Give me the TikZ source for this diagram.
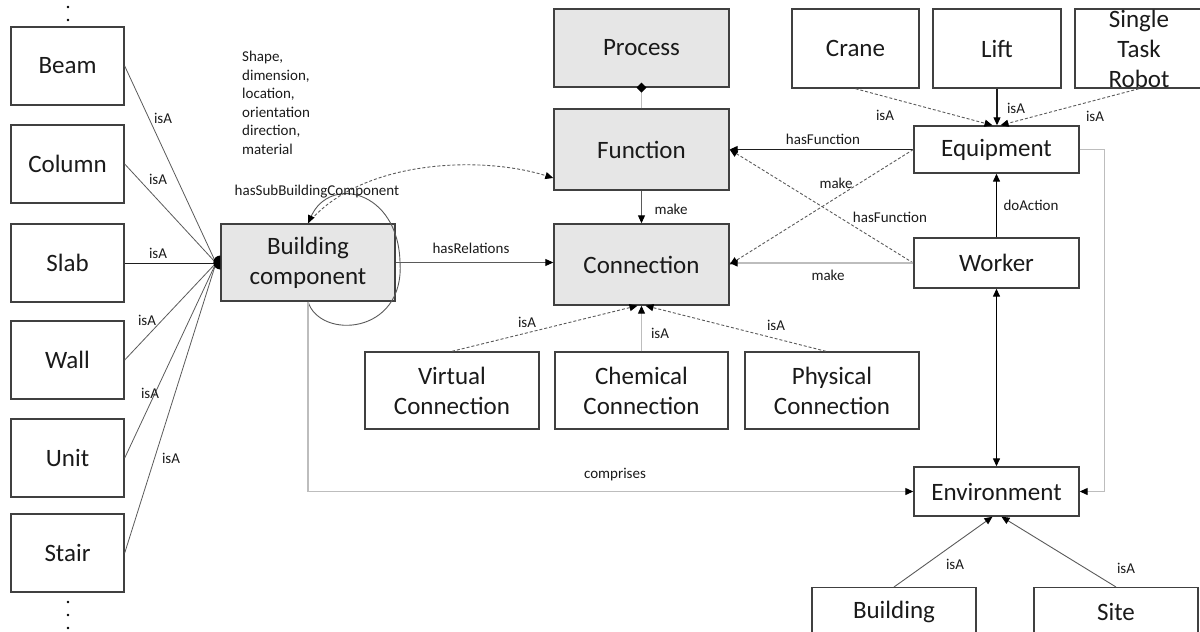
\documentclass[tikz,border=0pt]{standalone}
\usepackage{fontspec}
\setmainfont{Carlito}
\usetikzlibrary{arrows.meta,calc}
\definecolor{boxline}{HTML}{404040}
\definecolor{boxfill}{HTML}{E6E6E6}
\definecolor{linedark}{HTML}{1E1E1E}
\definecolor{linemid}{HTML}{5A5A5A}
\definecolor{linelight}{HTML}{BDBDBD}
\definecolor{txt}{HTML}{1A1A1A}
\begin{document}
\begin{tikzpicture}[x=1pt,y=-1pt,
  box/.style={draw=boxline, line width=1.4pt, inner sep=0pt, align=center,
    font=\fontsize{25}{30}\selectfont, text=txt},
  core/.style={box, fill=boxfill},
  part/.style={box, minimum width=113pt, minimum height=78pt},
  lbl/.style={font=\fontsize{15}{18.5}\selectfont, text=txt, inner sep=0pt},
  tip/.style={-{Triangle[length=8pt,width=7pt,color=black]}},
  isline/.style={draw=linemid, line width=0.8pt},
  solidc/.style={tip, draw=linedark, line width=1.1pt},
  greyc/.style={tip, draw=linelight, line width=1.2pt},
  dashc/.style={tip, draw=linemid, line width=0.9pt, dash pattern=on 3pt off 2pt},
  dotmark/.style={circle, fill=black, inner sep=0pt, minimum size=2.6pt}
]
\useasboundingbox (0,0) rectangle (1200,632);

% ---------- building parts on the left ----------
\node[part] (beam) at (67.5,66)  {Beam};
\node[part] (col)  at (67.5,164) {Column};
\node[part] (slab) at (67.5,263) {Slab};
\node[part] (wall) at (67.5,360) {Wall};
\node[part] (unit) at (67.5,458) {Unit};
\node[part] (stair) at (67.5,553) {Stair};
\node[dotmark] (dt1) at (68,7) {};
\node[dotmark] (dt2) at (68,20) {};
\node[dotmark] (db1) at (68,602) {};
\node[dotmark] (db2) at (68,615) {};
\node[dotmark] (db3) at (68,628) {};

% ---------- core concepts ----------
\node[core, minimum width=174pt, minimum height=77pt] (bc) at (308,262.5) {Building\\component};
\node[core, minimum width=175pt, minimum height=78pt] (proc) at (641.5,48) {Process};
\node[core, minimum width=175pt, minimum height=81pt] (fn) at (641.5,149.5) {Function};
\node[core, minimum width=175pt, minimum height=81pt] (cn) at (641.5,264.5) {Connection};

% ---------- connection kinds ----------
\node[box, minimum width=174pt, minimum height=77pt] (vc) at (452,390.5) {Virtual\\Connection};
\node[box, minimum width=173pt, minimum height=77pt] (cc) at (641.5,390.5) {Chemical\\Connection};
\node[box, minimum width=174pt, minimum height=77pt] (pc) at (832,390.5) {Physical\\Connection};

% ---------- equipment, worker, environment ----------
\node[box, minimum width=127pt, minimum height=79pt] (crane) at (855.5,48.5) {Crane};
\node[box, minimum width=128pt, minimum height=79pt] (lift) at (997,48.5) {Lift};
\node[box, minimum width=128pt, minimum height=79pt] (robot) at (1139,48.5) {Single\\Task\\Robot};
\node[box, minimum width=165pt, minimum height=47pt] (eq) at (996.5,149.5) {Equipment};
\node[box, minimum width=165pt, minimum height=50pt] (wk) at (996.5,263) {Worker};
\node[box, minimum width=165pt, minimum height=49pt] (env) at (996.5,491.5) {Environment};
\node[box, minimum width=164pt, minimum height=48pt, anchor=north] (bld) at (894,587) {Building};
\node[box, minimum width=164pt, minimum height=48pt, anchor=north] (site) at (1116,587) {Site};

% ---------- attribute list ----------
\node[lbl, anchor=north west, align=left] (attr) at (242,51)
  {Shape,\\dimension,\\location,\\orientation\\direction,\\material};

% ---------- parts join the building component ----------
\coordinate (hub) at (216,263);
\foreach \p in {beam,col,wall,unit,stair} \draw[isline] (\p.east) -- (hub);
\draw[draw=linedark, line width=1pt] (slab.east) -- (hub);
\fill (bc.west) ++(0,-7) arc[start angle=90,end angle=270,radius=7pt] -- cycle;
\node[lbl] at (163,118) {isA};
\node[lbl] at (158,179) {isA};
\node[lbl] at (158,253) {isA};
\node[lbl] at (147,320) {isA};
\node[lbl] at (150,393) {isA};
\node[lbl] at (171,458) {isA};

% ---------- building component relations ----------
\draw[dashc] (bc.north) .. controls (360,160) and (480,155) .. ($(fn.west)+(0,28.5)$);
\draw[tip, draw=linemid, line width=0.9pt] (bc.south) .. controls (320,340) and (405,335) .. (400,262)
  .. controls (398,190) and (330,175) .. (bc.north);
\node[lbl] at (317,192) {hasSubBuildingComponent};
\draw[tip, draw=linemid, line width=0.9pt] (bc.east) -- (bc.east -| cn.west);
\node[lbl] at (471,248) {hasRelations};
\draw[greyc] (bc.south) |- (env.west);
\node[lbl] at (615,475) {comprises};

% ---------- process / function / connection ----------
\draw[draw=linelight, line width=1.2pt] (fn.north) -- (proc.south);
\fill ($(proc.south)+(0,-5)$) -- ++(5,5) -- ++(-5,5) -- ++(-5,-5) -- cycle;
\draw[tip, draw=linemid, line width=1pt] (fn.south) -- (cn.north);
\node[lbl] at (671,209) {make};

\draw[dashc] (vc.north) -- ($(cn.south)+(-4,0)$);
\node[lbl] at (527,322) {isA};
\draw[greyc] (cc.north) -- (cn.south);
\node[lbl] at (660,333) {isA};
\draw[dashc] ($(pc.north)+(-6,0)$) -- ($(cn.south)+(4,0)$);
\node[lbl] at (776,325) {isA};

% ---------- equipment kinds ----------
\draw[dashc] (crane.south) -- ($(eq.north)+(-4,0)$);
\node[lbl] at (885,115) {isA};
\draw[solidc] (lift.south) -- (lift.south |- eq.north);
\node[lbl] at (1016,108) {isA};
\draw[dashc] (robot.south) -- ($(eq.north)+(4,0)$);
\node[lbl] at (1095,116) {isA};

% ---------- equipment and worker relations ----------
\draw[solidc] (eq.west) -- (fn.east);
\node[lbl] at (823,139) {hasFunction};
\draw[dashc] (eq.west) -- (cn.east);
\node[lbl] at (836,183) {make};
\draw[dashc] (wk.west) -- (fn.east);
\node[lbl] at (890,217) {hasFunction};
\draw[greyc] (wk.west) -- (wk.west -| cn.east);
\node[lbl] at (828,275) {make};
\draw[tip, draw=black, line width=1.3pt] (wk.north) -- (eq.south);
\node[lbl] at (1031,205) {doAction};
\draw[{Triangle[length=8pt,width=7pt]}-{Triangle[length=8pt,width=7pt]}, draw=black, line width=1.3pt] (wk.south) -- (env.north);
\draw[greyc] (eq.east) -- ++(25,0) |- (env.east);

% ---------- environment kinds ----------
\draw[tip, draw=linemid, line width=0.9pt] (bld.north) -- ($(env.south)+(-4,0)$);
\node[lbl] at (955,564) {isA};
\draw[tip, draw=linemid, line width=0.9pt] (site.north) -- ($(env.south)+(5,0)$);
\node[lbl] at (1126,568) {isA};
\end{tikzpicture}
\end{document}
